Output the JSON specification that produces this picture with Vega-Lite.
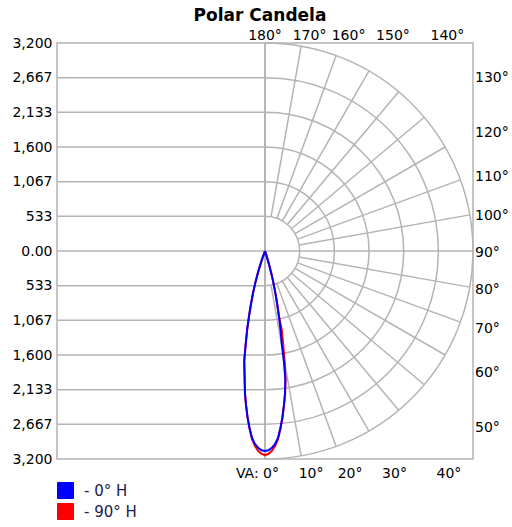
{
  "$schema": "https://vega.github.io/schema/vega-lite/v6.json",
  "width": 416,
  "height": 416,
  "autosize": {"type": "none"},
  "padding": {"left": 57, "top": 43, "right": 39, "bottom": 68},
  "title": {"text": "Polar Candela", "frame": "group", "anchor": "middle", "offset": 4, "dx": -5, "fontSize": 17, "fontWeight": "bold", "font": "DejaVu Sans", "color": "#000000"},
  "config": {
    "font": "DejaVu Sans",
    "view": {"stroke": "#b4b4b4", "strokeWidth": 1.5},
    "axisY": {"labelOverlap": false}
  },
  "datasets": {
    "hgrid": [{"y": -2666.67}, {"y": -2133.33}, {"y": -1600}, {"y": -1066.67}, {"y": -533.33}, {"y": 533.33}, {"y": 1066.67}, {"y": 1600}, {"y": 2133.33}, {"y": 2666.67}],
    "axes": [{"x": -3200, "y": 0, "x2": 3200, "y2": 0}, {"x": 0, "y": -3200, "x2": 0, "y2": 3200}],
    "circles": [{"r": 533.33}, {"r": 1066.67}, {"r": 1600}, {"r": 2133.33}, {"r": 2666.67}, {"r": 3200}],
    "radials": [{"va": 10}, {"va": 20}, {"va": 30}, {"va": 40}, {"va": 50}, {"va": 60}, {"va": 70}, {"va": 80}, {"va": 100}, {"va": 110}, {"va": 120}, {"va": 130}, {"va": 140}, {"va": 150}, {"va": 160}, {"va": 170}],
    "lblTop": [{"label": "170°", "x": 564.3, "y": 3200}, {"label": "160°", "x": 1164.7, "y": 3200}, {"label": "150°", "x": 1847.5, "y": 3200}, {"label": "140°", "x": 2685.1, "y": 3200}],
    "lbl180": [{"label": "180°", "x": 0, "y": 3200}],
    "lblRight": [{"label": "130°", "x": 3200, "y": 2685.1}, {"label": "120°", "x": 3200, "y": 1847.5}, {"label": "110°", "x": 3200, "y": 1164.7}, {"label": "100°", "x": 3200, "y": 564.3}, {"label": "90°", "x": 3200, "y": 0}, {"label": "80°", "x": 3200, "y": -564.3}, {"label": "70°", "x": 3200, "y": -1164.7}, {"label": "60°", "x": 3200, "y": -1847.5}, {"label": "50°", "x": 3200, "y": -2685.1}],
    "lblBottom": [{"label": "10°", "x": 564.3, "y": -3200}, {"label": "20°", "x": 1164.7, "y": -3200}, {"label": "30°", "x": 1847.5, "y": -3200}, {"label": "40°", "x": 2685.1, "y": -3200}],
    "lblVA": [{"label": "VA: 0°", "x": 0, "y": -3200}],
    "c0": [
      {"s": "- 0° H", "i": 0, "x": 0, "y": 0},
      {"s": "- 0° H", "i": 1, "x": -27.8, "y": -75.6},
      {"s": "- 0° H", "i": 2, "x": -66.1, "y": -190.2},
      {"s": "- 0° H", "i": 3, "x": -106.4, "y": -325.1},
      {"s": "- 0° H", "i": 4, "x": -144.6, "y": -471.0},
      {"s": "- 0° H", "i": 5, "x": -180.0, "y": -627.9},
      {"s": "- 0° H", "i": 6, "x": -212.3, "y": -795.6},
      {"s": "- 0° H", "i": 7, "x": -243.1, "y": -984.1},
      {"s": "- 0° H", "i": 8, "x": -273.6, "y": -1203.1},
      {"s": "- 0° H", "i": 9, "x": -296.1, "y": -1423.4},
      {"s": "- 0° H", "i": 10, "x": -319.6, "y": -1693.9},
      {"s": "- 0° H", "i": 11, "x": -312.9, "y": -1975.4},
      {"s": "- 0° H", "i": 12, "x": -307.6, "y": -2188.5},
      {"s": "- 0° H", "i": 13, "x": -291.3, "y": -2372.2},
      {"s": "- 0° H", "i": 14, "x": -268.6, "y": -2555.9},
      {"s": "- 0° H", "i": 15, "x": -237.9, "y": -2719.6},
      {"s": "- 0° H", "i": 16, "x": -200.9, "y": -2873.0},
      {"s": "- 0° H", "i": 17, "x": -155.6, "y": -2967.9},
      {"s": "- 0° H", "i": 18, "x": -105.7, "y": -3028.2},
      {"s": "- 0° H", "i": 19, "x": -53.5, "y": -3065.5},
      {"s": "- 0° H", "i": 20, "x": 0, "y": -3077},
      {"s": "- 0° H", "i": 21, "x": 53.5, "y": -3065.5},
      {"s": "- 0° H", "i": 22, "x": 105.7, "y": -3028.2},
      {"s": "- 0° H", "i": 23, "x": 155.6, "y": -2967.9},
      {"s": "- 0° H", "i": 24, "x": 200.9, "y": -2873.0},
      {"s": "- 0° H", "i": 25, "x": 237.9, "y": -2719.6},
      {"s": "- 0° H", "i": 26, "x": 268.6, "y": -2555.9},
      {"s": "- 0° H", "i": 27, "x": 291.3, "y": -2372.2},
      {"s": "- 0° H", "i": 28, "x": 307.6, "y": -2188.5},
      {"s": "- 0° H", "i": 29, "x": 312.9, "y": -1975.4},
      {"s": "- 0° H", "i": 30, "x": 290.0, "y": -1693.9},
      {"s": "- 0° H", "i": 31, "x": 257.3, "y": -1423.4},
      {"s": "- 0° H", "i": 32, "x": 237.8, "y": -1203.1},
      {"s": "- 0° H", "i": 33, "x": 211.3, "y": -984.1},
      {"s": "- 0° H", "i": 34, "x": 184.5, "y": -795.6},
      {"s": "- 0° H", "i": 35, "x": 156.4, "y": -627.9},
      {"s": "- 0° H", "i": 36, "x": 125.6, "y": -471.0},
      {"s": "- 0° H", "i": 37, "x": 92.4, "y": -325.1},
      {"s": "- 0° H", "i": 38, "x": 57.5, "y": -190.2},
      {"s": "- 0° H", "i": 39, "x": 24.2, "y": -75.6},
      {"s": "- 0° H", "i": 40, "x": 0, "y": 0}
    ],
    "c90": [
      {"s": "- 90° H", "i": 0, "x": 0, "y": 0},
      {"s": "- 90° H", "i": 1, "x": -27.8, "y": -75.6},
      {"s": "- 90° H", "i": 2, "x": -66.1, "y": -190.2},
      {"s": "- 90° H", "i": 3, "x": -106.4, "y": -325.1},
      {"s": "- 90° H", "i": 4, "x": -144.6, "y": -471.0},
      {"s": "- 90° H", "i": 5, "x": -180.0, "y": -627.9},
      {"s": "- 90° H", "i": 6, "x": -212.3, "y": -795.6},
      {"s": "- 90° H", "i": 7, "x": -243.1, "y": -984.1},
      {"s": "- 90° H", "i": 8, "x": -273.6, "y": -1203.1},
      {"s": "- 90° H", "i": 9, "x": -296.1, "y": -1423.4},
      {"s": "- 90° H", "i": 10, "x": -319.6, "y": -1693.9},
      {"s": "- 90° H", "i": 11, "x": -312.9, "y": -1975.4},
      {"s": "- 90° H", "i": 12, "x": -309.0, "y": -2198.4},
      {"s": "- 90° H", "i": 13, "x": -291.9, "y": -2377.2},
      {"s": "- 90° H", "i": 14, "x": -269.2, "y": -2560.9},
      {"s": "- 90° H", "i": 15, "x": -238.8, "y": -2729.6},
      {"s": "- 90° H", "i": 16, "x": -202.0, "y": -2887.9},
      {"s": "- 90° H", "i": 17, "x": -157.0, "y": -2995.9},
      {"s": "- 90° H", "i": 18, "x": -107.3, "y": -3073.1},
      {"s": "- 90° H", "i": 19, "x": -54.4, "y": -3119.5},
      {"s": "- 90° H", "i": 20, "x": 0, "y": -3140},
      {"s": "- 90° H", "i": 21, "x": 54.4, "y": -3119.5},
      {"s": "- 90° H", "i": 22, "x": 107.3, "y": -3073.1},
      {"s": "- 90° H", "i": 23, "x": 157.0, "y": -2995.9},
      {"s": "- 90° H", "i": 24, "x": 202.0, "y": -2887.9},
      {"s": "- 90° H", "i": 25, "x": 238.8, "y": -2729.6},
      {"s": "- 90° H", "i": 26, "x": 269.2, "y": -2560.9},
      {"s": "- 90° H", "i": 27, "x": 291.9, "y": -2377.2},
      {"s": "- 90° H", "i": 28, "x": 309.0, "y": -2198.4},
      {"s": "- 90° H", "i": 29, "x": 316.0, "y": -1995.1},
      {"s": "- 90° H", "i": 30, "x": 303.9, "y": -1723.4},
      {"s": "- 90° H", "i": 31, "x": 280.5, "y": -1443.0},
      {"s": "- 90° H", "i": 32, "x": 257.8, "y": -1212.9},
      {"s": "- 90° H", "i": 33, "x": 211.3, "y": -984.1},
      {"s": "- 90° H", "i": 34, "x": 184.5, "y": -795.6},
      {"s": "- 90° H", "i": 35, "x": 156.4, "y": -627.9},
      {"s": "- 90° H", "i": 36, "x": 125.6, "y": -471.0},
      {"s": "- 90° H", "i": 37, "x": 92.4, "y": -325.1},
      {"s": "- 90° H", "i": 38, "x": 57.5, "y": -190.2},
      {"s": "- 90° H", "i": 39, "x": 24.2, "y": -75.6},
      {"s": "- 90° H", "i": 40, "x": 0, "y": 0}
    ]
  },
  "layer": [
    {
      "data": {"name": "hgrid"},
      "mark": {"type": "rule", "stroke": "#b4b4b4", "strokeWidth": 1.5},
      "encoding": {
        "x": {"datum": -3200, "type": "quantitative", "scale": {"domain": [-3200, 3200], "nice": false, "zero": false}, "axis": null},
        "x2": {"datum": 0},
        "y": {"field": "y", "type": "quantitative", "scale": {"domain": [-3200, 3200], "nice": false, "zero": false},
          "axis": {"values": [-3200, -2666.67, -2133.33, -1600, -1066.67, -533.33, 0, 533.33, 1066.67, 1600, 2133.33, 2666.67, 3200], "labelExpr": "datum.value == 0 ? '0.00' : format(abs(datum.value), ',.0f')", "grid": false, "ticks": false, "domain": false, "labelPadding": 5, "labelFontSize": 14, "labelColor": "#000000", "labelFont": "DejaVu Sans", "title": null, "labelOverlap": false, "labelBound": false, "labelFlush": false}}
      }
    },
    {
      "data": {"name": "axes"},
      "mark": {"type": "rule", "stroke": "#b4b4b4", "strokeWidth": 1.5},
      "encoding": {
        "x": {"field": "x", "type": "quantitative", "scale": {"domain": [-3200, 3200], "nice": false, "zero": false}, "axis": null},
        "x2": {"field": "x2"},
        "y": {"field": "y", "type": "quantitative", "scale": {"domain": [-3200, 3200], "nice": false, "zero": false},
          "axis": {"values": [-3200, -2666.67, -2133.33, -1600, -1066.67, -533.33, 0, 533.33, 1066.67, 1600, 2133.33, 2666.67, 3200], "labelExpr": "datum.value == 0 ? '0.00' : format(abs(datum.value), ',.0f')", "grid": false, "ticks": false, "domain": false, "labelPadding": 5, "labelFontSize": 14, "labelColor": "#000000", "labelFont": "DejaVu Sans", "title": null, "labelOverlap": false, "labelBound": false, "labelFlush": false}},
        "y2": {"field": "y2"}
      }
    },
    {
      "data": {"name": "circles"},
      "mark": {"type": "arc", "filled": false, "stroke": "#b4b4b4", "strokeWidth": 1.5, "theta": 0, "theta2": 3.14159265},
      "encoding": {
        "radius": {"field": "r", "type": "quantitative", "stack": null, "scale": {"type": "linear", "domain": [0, 3200], "range": [0, 208], "zero": true}}
      }
    },
    {
      "data": {"name": "radials"},
      "mark": {"type": "arc", "filled": false, "stroke": "#b4b4b4", "strokeWidth": 1.5},
      "encoding": {
        "theta": {"field": "va", "type": "quantitative", "stack": null, "scale": {"type": "linear", "domain": [0, 180], "range": [3.14159265, 0], "zero": false}},
        "theta2": {"field": "va"},
        "radius": {"datum": 533.33, "type": "quantitative", "stack": null, "scale": {"type": "linear", "domain": [0, 3200], "range": [0, 208], "zero": true}},
        "radius2": {"datum": 3200}
      }
    },
    {
      "data": {"name": "lblTop"},
      "mark": {"type": "text", "align": "left", "baseline": "alphabetic", "dx": -9, "dy": -3, "fontSize": 14, "font": "DejaVu Sans", "color": "#000000"},
      "encoding": {
        "x": {"field": "x", "type": "quantitative", "scale": {"domain": [-3200, 3200], "nice": false, "zero": false}, "axis": null},
        "y": {"field": "y", "type": "quantitative", "scale": {"domain": [-3200, 3200], "nice": false, "zero": false},
          "axis": {"values": [-3200, -2666.67, -2133.33, -1600, -1066.67, -533.33, 0, 533.33, 1066.67, 1600, 2133.33, 2666.67, 3200], "labelExpr": "datum.value == 0 ? '0.00' : format(abs(datum.value), ',.0f')", "grid": false, "ticks": false, "domain": false, "labelPadding": 5, "labelFontSize": 14, "labelColor": "#000000", "labelFont": "DejaVu Sans", "title": null, "labelOverlap": false, "labelBound": false, "labelFlush": false}},
        "text": {"field": "label"}
      }
    },
    {
      "data": {"name": "lbl180"},
      "mark": {"type": "text", "align": "center", "baseline": "alphabetic", "dx": 0, "dy": -3, "fontSize": 14, "font": "DejaVu Sans", "color": "#000000"},
      "encoding": {
        "x": {"field": "x", "type": "quantitative", "scale": {"domain": [-3200, 3200], "nice": false, "zero": false}, "axis": null},
        "y": {"field": "y", "type": "quantitative", "scale": {"domain": [-3200, 3200], "nice": false, "zero": false},
          "axis": {"values": [-3200, -2666.67, -2133.33, -1600, -1066.67, -533.33, 0, 533.33, 1066.67, 1600, 2133.33, 2666.67, 3200], "labelExpr": "datum.value == 0 ? '0.00' : format(abs(datum.value), ',.0f')", "grid": false, "ticks": false, "domain": false, "labelPadding": 5, "labelFontSize": 14, "labelColor": "#000000", "labelFont": "DejaVu Sans", "title": null, "labelOverlap": false, "labelBound": false, "labelFlush": false}},
        "text": {"field": "label"}
      }
    },
    {
      "data": {"name": "lblRight"},
      "mark": {"type": "text", "align": "left", "baseline": "middle", "dx": 2, "dy": 2, "fontSize": 14, "font": "DejaVu Sans", "color": "#000000"},
      "encoding": {
        "x": {"field": "x", "type": "quantitative", "scale": {"domain": [-3200, 3200], "nice": false, "zero": false}, "axis": null},
        "y": {"field": "y", "type": "quantitative", "scale": {"domain": [-3200, 3200], "nice": false, "zero": false},
          "axis": {"values": [-3200, -2666.67, -2133.33, -1600, -1066.67, -533.33, 0, 533.33, 1066.67, 1600, 2133.33, 2666.67, 3200], "labelExpr": "datum.value == 0 ? '0.00' : format(abs(datum.value), ',.0f')", "grid": false, "ticks": false, "domain": false, "labelPadding": 5, "labelFontSize": 14, "labelColor": "#000000", "labelFont": "DejaVu Sans", "title": null, "labelOverlap": false, "labelBound": false, "labelFlush": false}},
        "text": {"field": "label"}
      }
    },
    {
      "data": {"name": "lblBottom"},
      "mark": {"type": "text", "align": "left", "baseline": "top", "dx": -3, "dy": 8, "fontSize": 14, "font": "DejaVu Sans", "color": "#000000"},
      "encoding": {
        "x": {"field": "x", "type": "quantitative", "scale": {"domain": [-3200, 3200], "nice": false, "zero": false}, "axis": null},
        "y": {"field": "y", "type": "quantitative", "scale": {"domain": [-3200, 3200], "nice": false, "zero": false},
          "axis": {"values": [-3200, -2666.67, -2133.33, -1600, -1066.67, -533.33, 0, 533.33, 1066.67, 1600, 2133.33, 2666.67, 3200], "labelExpr": "datum.value == 0 ? '0.00' : format(abs(datum.value), ',.0f')", "grid": false, "ticks": false, "domain": false, "labelPadding": 5, "labelFontSize": 14, "labelColor": "#000000", "labelFont": "DejaVu Sans", "title": null, "labelOverlap": false, "labelBound": false, "labelFlush": false}},
        "text": {"field": "label"}
      }
    },
    {
      "data": {"name": "lblVA"},
      "mark": {"type": "text", "align": "right", "baseline": "top", "dx": 14, "dy": 8, "fontSize": 14, "font": "DejaVu Sans", "color": "#000000"},
      "encoding": {
        "x": {"field": "x", "type": "quantitative", "scale": {"domain": [-3200, 3200], "nice": false, "zero": false}, "axis": null},
        "y": {"field": "y", "type": "quantitative", "scale": {"domain": [-3200, 3200], "nice": false, "zero": false},
          "axis": {"values": [-3200, -2666.67, -2133.33, -1600, -1066.67, -533.33, 0, 533.33, 1066.67, 1600, 2133.33, 2666.67, 3200], "labelExpr": "datum.value == 0 ? '0.00' : format(abs(datum.value), ',.0f')", "grid": false, "ticks": false, "domain": false, "labelPadding": 5, "labelFontSize": 14, "labelColor": "#000000", "labelFont": "DejaVu Sans", "title": null, "labelOverlap": false, "labelBound": false, "labelFlush": false}},
        "text": {"field": "label"}
      }
    },
    {
      "data": {"name": "c90"},
      "mark": {"type": "line", "strokeWidth": 2},
      "encoding": {
        "x": {"field": "x", "type": "quantitative", "scale": {"domain": [-3200, 3200], "nice": false, "zero": false}, "axis": null},
        "y": {"field": "y", "type": "quantitative", "scale": {"domain": [-3200, 3200], "nice": false, "zero": false},
          "axis": {"values": [-3200, -2666.67, -2133.33, -1600, -1066.67, -533.33, 0, 533.33, 1066.67, 1600, 2133.33, 2666.67, 3200], "labelExpr": "datum.value == 0 ? '0.00' : format(abs(datum.value), ',.0f')", "grid": false, "ticks": false, "domain": false, "labelPadding": 5, "labelFontSize": 14, "labelColor": "#000000", "labelFont": "DejaVu Sans", "title": null, "labelOverlap": false, "labelBound": false, "labelFlush": false}},
        "order": {"field": "i", "type": "quantitative"},
        "color": {"field": "s", "type": "nominal", "scale": {"domain": ["- 0° H", "- 90° H"], "range": ["#0000ff", "#ff0000"]},
          "legend": {"orient": "none", "legendX": 0, "legendY": 439, "title": null, "symbolType": "square", "symbolSize": 256, "symbolStrokeWidth": 1, "symbolStrokeColor": "#8a8a8a", "labelFontSize": 15, "labelFont": "DejaVu Sans", "labelColor": "#20204a", "labelOffset": 10, "rowPadding": 0, "padding": 0,
            "encode": {"symbols": {"update": {"fill": {"scale": "color", "field": "value"}, "stroke": {"value": "#8a8a8a"}, "strokeWidth": {"value": 1}, "opacity": {"value": 1}}}}}}
      }
    },
    {
      "data": {"name": "c0"},
      "mark": {"type": "line", "strokeWidth": 2},
      "encoding": {
        "x": {"field": "x", "type": "quantitative", "scale": {"domain": [-3200, 3200], "nice": false, "zero": false}, "axis": null},
        "y": {"field": "y", "type": "quantitative", "scale": {"domain": [-3200, 3200], "nice": false, "zero": false},
          "axis": {"values": [-3200, -2666.67, -2133.33, -1600, -1066.67, -533.33, 0, 533.33, 1066.67, 1600, 2133.33, 2666.67, 3200], "labelExpr": "datum.value == 0 ? '0.00' : format(abs(datum.value), ',.0f')", "grid": false, "ticks": false, "domain": false, "labelPadding": 5, "labelFontSize": 14, "labelColor": "#000000", "labelFont": "DejaVu Sans", "title": null, "labelOverlap": false, "labelBound": false, "labelFlush": false}},
        "order": {"field": "i", "type": "quantitative"},
        "color": {"field": "s", "type": "nominal", "scale": {"domain": ["- 0° H", "- 90° H"], "range": ["#0000ff", "#ff0000"]},
          "legend": {"orient": "none", "legendX": 0, "legendY": 439, "title": null, "symbolType": "square", "symbolSize": 256, "symbolStrokeWidth": 1, "symbolStrokeColor": "#8a8a8a", "labelFontSize": 15, "labelFont": "DejaVu Sans", "labelColor": "#20204a", "labelOffset": 10, "rowPadding": 0, "padding": 0,
            "encode": {"symbols": {"update": {"fill": {"scale": "color", "field": "value"}, "stroke": {"value": "#8a8a8a"}, "strokeWidth": {"value": 1}, "opacity": {"value": 1}}}}}}
      }
    }
  ]
}
